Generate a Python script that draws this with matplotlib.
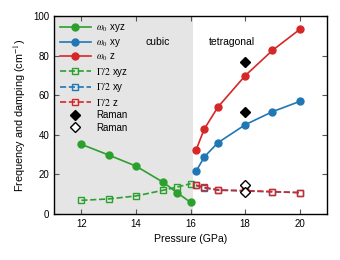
import matplotlib
matplotlib.use("Agg")
import matplotlib.pyplot as plt

plt.rcParams['font.family'] = ['Liberation Sans', 'DejaVu Sans']
plt.rcParams['mathtext.fontset'] = 'stix'

# cubic phase (xyz)
p_cubic = [12, 13, 14, 15, 15.5, 16]
w_xyz = [35.2, 29.8, 24.2, 16.0, 10.8, 5.9]
g_xyz = [6.9, 7.6, 9.1, 12.0, 13.6, 15.3]

# tetragonal phase
p_tet = [16.2, 16.5, 17, 18, 19, 20]
w_xy = [21.5, 28.8, 36.0, 45.1, 51.7, 56.9]
w_z = [32.3, 42.9, 54.0, 69.9, 82.7, 93.3]
g_xy = [14.4, 13.2, 12.0, 11.6, 11.2, 10.8]
g_z = [14.6, 13.5, 12.2, 11.8, 11.3, 10.8]

# Raman
p_raman = [18, 18]
raman_filled = [76.6, 51.4]
raman_open = [14.6, 11.2]

green, blue, red = '#2ca02c', '#1f77b4', '#d62728'

fig = plt.figure(figsize=(3.4, 2.6), dpi=100)
ax = fig.add_axes([0.159, 0.177, 0.803, 0.761])

ax.axvspan(11, 16.1, color='#e5e5e5', lw=0, zorder=0)

ax.plot(p_cubic, w_xyz, '-o', color=green, ms=5, lw=1.2, label=r'$\omega_0$ xyz', zorder=3)
ax.plot(p_tet, w_xy, '-o', color=blue, ms=5, lw=1.2, label=r'$\omega_0$ xy', zorder=3)
ax.plot(p_tet, w_z, '-o', color=red, ms=5, lw=1.2, label=r'$\omega_0$ z', zorder=3)
ax.plot(p_cubic, g_xyz, '--s', color=green, ms=5, mfc='none', mew=1.0, lw=1.2, label=r'$\Gamma/2$ xyz', zorder=3)
ax.plot(p_tet, g_xy, '--s', color=blue, ms=5, mfc='none', mew=1.0, lw=1.2, label=r'$\Gamma/2$ xy', zorder=3)
ax.plot(p_tet, g_z, '--s', color=red, ms=5, mfc='none', mew=1.0, lw=1.2, label=r'$\Gamma/2$ z', zorder=3)
ax.plot(p_raman, raman_filled, 'D', color='black', ms=5.5, ls='none', label='Raman', zorder=4)
ax.plot(p_raman, raman_open, 'D', color='black', mfc='white', mew=1.0, ms=5.5, ls='none', label='Raman', zorder=4)

ax.text(14.8, 87, 'cubic', fontsize=7.5, ha='center', va='center')
ax.text(17.5, 87, 'tetragonal', fontsize=7.5, ha='center', va='center')

ax.set_xlim(11, 21)
ax.set_ylim(0, 100)
ax.set_xticks([12, 14, 16, 18, 20])
ax.set_yticks([0, 20, 40, 60, 80, 100])
ax.tick_params(direction='in', top=True, right=True, labelsize=7, length=3.5, width=0.8, color='#555555')
ax.set_xlabel('Pressure (GPa)', fontsize=7.6)
ax.set_ylabel(r'Frequency and damping (cm$^{-1}$)', fontsize=7.8)
for s in ax.spines.values():
    s.set_linewidth(1.0)

leg = ax.legend(loc='upper left', fontsize=7, frameon=False, handlelength=3.1,
                labelspacing=0.26, borderaxespad=0.25, handletextpad=0.6)

fig.savefig('out.png', dpi=100)
